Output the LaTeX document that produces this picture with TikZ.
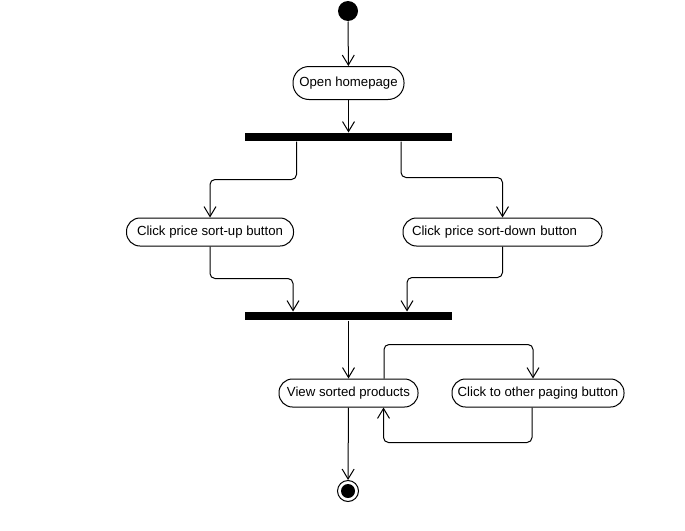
\documentclass[tikz,border=0pt]{standalone}
\usepackage{fontspec}
\setmainfont{Liberation Sans}
\usetikzlibrary{arrows.meta,calc}
\begin{document}
\begin{tikzpicture}[x=1pt,y=-1pt,
  line width=1pt,
  action/.style={draw, rounded corners=13.5pt, minimum height=28pt, inner sep=0pt,
    font=\fontsize{13.2}{15}\selectfont},
  bar/.style={fill=black, minimum height=8pt, inner sep=0pt},
  flow/.style={-{Straight Barb[length=10pt,width=12pt,line width=1pt]}, rounded corners=5pt}
]
\useasboundingbox[fill=white] (0,0) rectangle (685,530);

% nodes
\node[circle, fill=black, minimum size=20pt, inner sep=0pt] (start) at (348,11) {};
\node[action, minimum width=111pt, minimum height=33pt, rounded corners=16pt] (open) at (348.5,83) {Open homepage};
\node[bar, minimum width=207pt] (fork) at (348.5,137) {};
\node[action, minimum width=167pt] (up) at (210,232) {Click price sort-up button};
\node[action, text width=181pt, inner xsep=9pt, align=left] (down) at (502.5,232) {Click price sort-down button};
\node[bar, minimum width=207pt] (join) at (348.5,316) {};
\node[action, minimum width=139pt] (view) at (348.5,393) {View sorted products};
\node[action, minimum width=172pt] (page) at (538,393) {Click to other paging button};
\node[circle, draw, minimum size=21pt, inner sep=0pt] (end) at (348,491) {};
\fill (end.center) circle (7pt);

% connectors
\draw[flow] (start) -- (open);
\draw[flow] (open) -- (fork);
\draw[flow] ([xshift=-52pt]fork.south) -- ++(0,38) -| (up.north);
\draw[flow] ([xshift=52.5pt]fork.south) -- ++(0,36) -| (down.north);
\draw[flow] (up.south) -- ++(0,32) -| ([xshift=-55.5pt]join.north);
\draw[flow] (down.south) -- ++(0,31) -| ([xshift=58.5pt]join.north);
\draw[flow] (join) -- (view);
\draw[flow] ([xshift=35.5pt]view.north) -- ++(0,-34) -| ([xshift=-5pt]page.north);
\draw[flow] ([xshift=-6pt]page.south) -- ++(0,35) -| ([xshift=35pt]view.south);
\draw[flow] (view) -- (end);
\end{tikzpicture}
\end{document}
